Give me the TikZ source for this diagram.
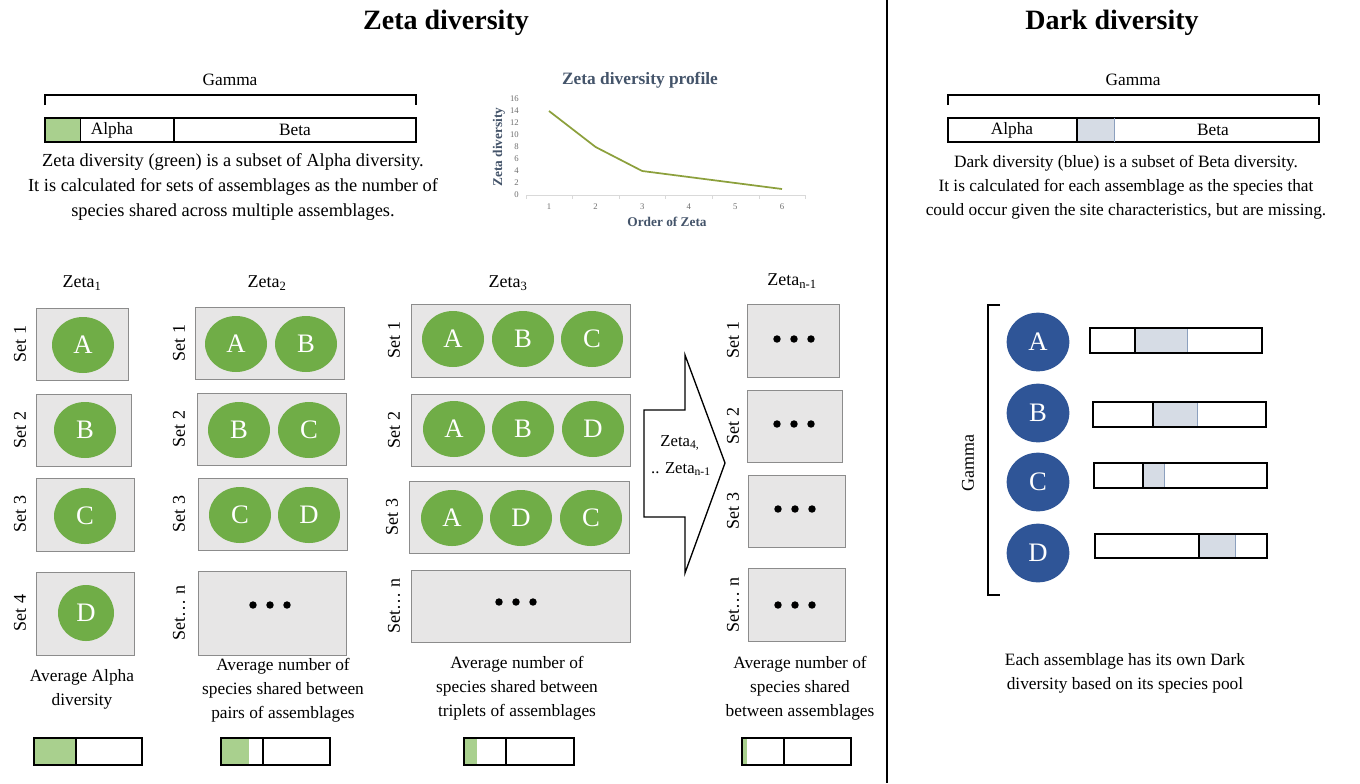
\documentclass[tikz,border=0pt]{standalone}
\usepackage{fontspec}
\setmainfont{Liberation Serif}
\usetikzlibrary{shapes.geometric}
\definecolor{zgreen}{RGB}{112,173,71}
\definecolor{lgreen}{RGB}{169,208,142}
\definecolor{boxgray}{RGB}{231,230,230}
\definecolor{boxline}{RGB}{140,140,140}
\definecolor{dblue}{RGB}{47,85,151}
\definecolor{lblue}{RGB}{214,220,229}
\definecolor{lbluel}{RGB}{140,160,190}
\definecolor{slate}{RGB}{68,84,106}
\definecolor{olive}{RGB}{140,160,60}
\definecolor{axgray}{RGB}{217,217,217}
\definecolor{tickgray}{RGB}{110,110,110}
\newcommand\zbox[4]{\draw[setbox] (#1,#2) rectangle (#3,#4);}
\newcommand\threedots[2]{\fill (#1-17,#2) circle (2.8pt) (#1,#2) circle (2.8pt) (#1+17,#2) circle (2.8pt);}
\begin{document}
\begin{tikzpicture}[x=0.75pt,y=-0.75pt,
  title/.style={font=\fontsize{21}{24}\selectfont\bfseries},
  body/.style={font=\fontsize{13}{18}\selectfont, align=center, inner sep=0pt},
  setbox/.style={draw=boxline, fill=boxgray, line width=0.7pt},
  gcirc/.style={ellipse, fill=zgreen, text=white, minimum width=46.5pt, minimum height=42pt, inner sep=0pt, font=\fontsize{20}{20}\selectfont},
  bcirc/.style={ellipse, fill=dblue, text=white, minimum width=47pt, minimum height=44pt, inner sep=0pt, font=\fontsize{20}{20}\selectfont},
  setlbl/.style={rotate=90, font=\fontsize{13.5}{16}\selectfont, inner sep=0pt},
  zlbl/.style={font=\fontsize{13.5}{16}\selectfont, inner sep=0pt},
  barline/.style={draw=black, line width=1.1pt},
  ticklbl/.style={font=\fontsize{6.5}{8}\selectfont, text=tickgray, inner sep=0pt},
  axtitle/.style={font=\fontsize{10}{12}\selectfont\bfseries, text=slate, inner sep=0pt},
]
\useasboundingbox (0,0) rectangle (1360,783);
\fill[white] (0,0) rectangle (1360,783);

% divider
\draw[line width=2pt] (887,0) -- (887,783);

% ===== Zeta side =====
\node[title] (ztitle) at (446,23) {Zeta diversity};
\node[body] (zgamma) at (230,80) {Gamma};
\draw[line width=1.1pt] (45,105) -- (45,95) -- (416,95) -- (416,105);
\fill[lgreen] (45,118) rectangle (80,142);
\draw[barline] (45,118) rectangle (416,142);
\draw[barline] (174,118) -- (174,142);
\draw[line width=0.5pt] (80,118) -- (80,142);
\node[body] (zalpha) at (112,130) {Alpha};
\node[body] (zbeta) at (295,130) {Beta};
\node[body, font=\fontsize{13.8}{18.4}\selectfont] (zdesc) at (233,187) {Zeta diversity (green) is a subset of Alpha diversity.\\It is calculated for sets of assemblages as the number of\\species shared across multiple assemblages.};

% chart
\node[font=\fontsize{13}{15}\selectfont\bfseries, text=slate] (ctitle) at (640,80) {Zeta diversity profile};
\draw[axgray, line width=0.6pt] (526,195) -- (806,195);
\foreach \k in {0,...,6} {\draw[axgray, line width=0.6pt] (526+46.6*\k,195) -- (526+46.6*\k,199);}
\foreach \v in {0,2,...,16} {\node[ticklbl, anchor=east] at (519,195-6*\v) {\v};}
\foreach \i in {1,...,6} {\node[ticklbl] at (549+46.6*\i-46.6,207) {\i};}
\node[axtitle, rotate=90] (ytitle) at (499,147) {Zeta diversity};
\node[axtitle] (xtitle) at (667,222) {Order of Zeta};
\draw[olive, line width=1.3pt, line join=round] (549,111) -- (595.6,147) -- (642.2,171) -- (688.8,177) -- (735.4,183) -- (782,189);

% Zeta 1
\node[zlbl] (z1) at (82,283) {Zeta\textsubscript{1}};
\zbox{36}{308}{128}{380}
\zbox{36}{394}{131}{466}
\zbox{36}{478}{134}{551}
\zbox{36}{572}{134}{655}
\node[gcirc] (z1a) at (83,345) {A};
\node[gcirc] (z1b) at (85,430) {B};
\node[gcirc] (z1c) at (85,516) {C};
\node[gcirc, minimum width=42pt] (z1d) at (86,613) {D};
\node[setlbl] (s11) at (20,344) {Set 1};
\node[setlbl] (s12) at (20,430) {Set 2};
\node[setlbl] (s13) at (20,514) {Set 3};
\node[setlbl] (s14) at (20,613) {Set 4};

% Zeta 2
\node[zlbl] (z2) at (267,283) {Zeta\textsubscript{2}};
\zbox{195}{307}{344}{379}
\zbox{197}{393}{346}{465}
\zbox{198}{478}{347}{550}
\zbox{198}{571}{346}{655}
\node[gcirc] (z2a1) at (236,344) {A};
\node[gcirc] (z2b1) at (306,344) {B};
\node[gcirc] (z2b2) at (239,430) {B};
\node[gcirc] (z2c2) at (309,430) {C};
\node[gcirc] (z2c3) at (240,515) {C};
\node[gcirc] (z2d3) at (309,515) {D};
\threedots{270}{605}
\node[setlbl] (s21) at (179,343) {Set 1};
\node[setlbl] (s22) at (179,429) {Set 2};
\node[setlbl] (s23) at (179,514) {Set 3};
\node[setlbl] (s24) at (179,613) {Set\dots\ n};

% Zeta 3
\node[zlbl] (z3) at (508,283) {Zeta\textsubscript{3}};
\zbox{411}{304}{630}{377}
\zbox{411}{394}{630}{466}
\zbox{409}{481}{629}{553}
\zbox{411}{570}{630}{642}
\node[gcirc] (z3a1) at (453,339) {A};
\node[gcirc] (z3b1) at (523,339) {B};
\node[gcirc] (z3c1) at (592,339) {C};
\node[gcirc] (z3a2) at (454,429) {A};
\node[gcirc] (z3b2) at (523,429) {B};
\node[gcirc] (z3d2) at (593,429) {D};
\node[gcirc] (z3a3) at (452,518) {A};
\node[gcirc] (z3d3) at (521,518) {D};
\node[gcirc] (z3c3) at (591,518) {C};
\threedots{516}{602}
\node[setlbl] (s31) at (394,340) {Set 1};
\node[setlbl] (s32) at (394,430) {Set 2};
\node[setlbl] (s33) at (392,517) {Set 3};
\node[setlbl] (s34) at (394,606) {Set\dots\ n};

% block arrow
\draw[line width=1pt, fill=white, line join=miter] (644,410) -- (685,410) -- (685,355) -- (725,463) -- (685,573) -- (685,517) -- (644,517) -- cycle;
\node[font=\fontsize{12.5}{15}\selectfont, inner sep=0pt] (ar1) at (680,443) {Zeta\textsubscript{4,}};
\node[font=\fontsize{12.5}{15}\selectfont, inner sep=0pt] (ar2) at (681,469) {.. Zeta\textsubscript{n-1}};

% Zeta n-1
\node[zlbl] (zn) at (792,281) {Zeta\textsubscript{n-1}};
\zbox{747}{304}{839}{377}
\zbox{747}{390}{842}{462}
\zbox{748}{475}{845}{547}
\zbox{748}{568}{845}{641}
\threedots{794}{339}
\threedots{794}{424}
\threedots{795}{509}
\threedots{795}{605}
\node[setlbl] (sn1) at (733,340) {Set 1};
\node[setlbl] (sn2) at (733,426) {Set 2};
\node[setlbl] (sn3) at (733,511) {Set 3};
\node[setlbl] (sn4) at (733,605) {Set\dots\ n};

% captions
\node[body] (c1) at (82,689) {Average Alpha\\diversity};
\node[body] (c2) at (283,690) {Average number of\\species shared between\\pairs of assemblages};
\node[body] (c3) at (517,688) {Average number of\\species shared between\\triplets of assemblages};
\node[body] (c4) at (800,688) {Average number of\\species shared\\between assemblages};

% bottom bars
\fill[lgreen] (34,738) rectangle (76,765);
\draw[barline] (34,738) rectangle (142,765);
\draw[barline] (76,738) -- (76,765);
\fill[lgreen] (221,738) rectangle (249,765);
\draw[barline] (221,738) rectangle (330,765);
\draw[barline] (263,738) -- (263,765);
\fill[lgreen] (464,738) rectangle (477,765);
\draw[barline] (464,738) rectangle (574,765);
\draw[barline] (506,738) -- (506,765);
\fill[lgreen] (742,738) rectangle (747,765);
\draw[barline] (742,738) rectangle (851,765);
\draw[barline] (784,738) -- (784,765);

% ===== Dark side =====
\node[title] (dtitle) at (1112,23) {Dark diversity};
\node[body] (dgamma) at (1133,80) {Gamma};
\draw[line width=1.1pt] (948,105) -- (948,95) -- (1319,95) -- (1319,105);
\fill[lblue] (1077,118) rectangle (1114,142);
\draw[barline] (948,118) rectangle (1319,142);
\draw[barline] (1077,118) -- (1077,142);
\draw[lbluel, line width=0.6pt] (1114,118) -- (1114,142);
\node[body] (dalpha) at (1012,130) {Alpha};
\node[body] (dbeta) at (1213,130) {Beta};
\node[body] (ddesc) at (1126,187) {Dark diversity (blue) is a subset of Beta diversity.\\It is calculated for each assemblage as the species that\\could occur given the site characteristics, but are missing.};

% gamma bracket
\draw[line width=1.1pt] (1000,305) -- (988,305) -- (988,595) -- (1000,595);
\node[setlbl] (dg) at (968,463) {Gamma};

\node[bcirc] (da) at (1038,342) {A};
\node[bcirc] (db) at (1038,413) {B};
\node[bcirc] (dc) at (1038,482) {C};
\node[bcirc] (dd) at (1038,553) {D};

\fill[lblue] (1135,328) rectangle (1187,353);
\draw[lbluel, line width=0.6pt] (1187,328) -- (1187,353);
\draw[barline] (1090,328) rectangle (1262,353);
\draw[barline] (1135,328) -- (1135,353);

\fill[lblue] (1153,402) rectangle (1197,427);
\draw[lbluel, line width=0.6pt] (1197,402) -- (1197,427);
\draw[barline] (1093,402) rectangle (1266,427);
\draw[barline] (1153,402) -- (1153,427);

\fill[lblue] (1143,463) rectangle (1164,488);
\draw[lbluel, line width=0.6pt] (1164,463) -- (1164,488);
\draw[barline] (1094,463) rectangle (1267,488);
\draw[barline] (1143,463) -- (1143,488);

\fill[lblue] (1199,534) rectangle (1235,558);
\draw[lbluel, line width=0.6pt] (1235,534) -- (1235,558);
\draw[barline] (1095,534) rectangle (1267,558);
\draw[barline] (1199,534) -- (1199,558);

\node[body] (dcap) at (1125,673) {Each assemblage has its own Dark\\diversity based on its species pool};
\end{tikzpicture}
\end{document}
